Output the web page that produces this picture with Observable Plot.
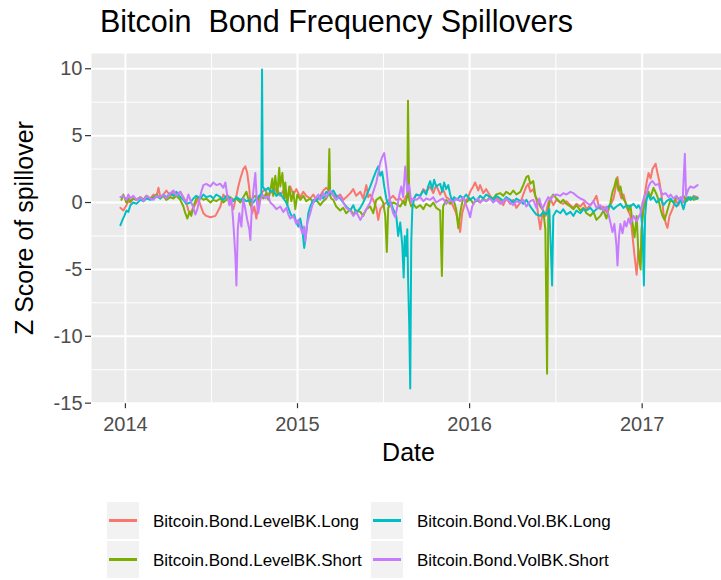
<!DOCTYPE html>
<html>
<head>
<meta charset="utf-8">
<script src="https://cdn.jsdelivr.net/npm/d3@7"></script>
<script src="https://cdn.jsdelivr.net/npm/@observablehq/plot@0.6"></script>
<style>
  html, body { margin: 0; padding: 0; background: #ffffff; }
  #wrap { position: relative; width: 721px; height: 580px; overflow: hidden; font-family: "Liberation Sans", Arial, Helvetica, sans-serif; }
  #chart { position: absolute; left: 0; top: 0; }
  .key { position: absolute; width: 32px; height: 37px; background: #F2F2F2; }
  .key span { position: absolute; left: 2px; right: 2px; top: 50%; height: 2.6px; margin-top: -1.3px; }
  .lab { position: absolute; font-size: 17px; color: #000; line-height: 20px; white-space: pre; }
</style>
</head>
<body>
<div id="wrap">
  <div id="chart"></div>
  <div id="legend"></div>
</div>
<script>
// ---- data (decimal year, z-score) ----
const seriesNames = ["Bitcoin.Bond.LevelBK.Long", "Bitcoin.Bond.LevelBK.Short", "Bitcoin.Bond.Vol.BK.Long", "Bitcoin.Bond.VolBK.Short"];
const seriesColors = ["#F8766D", "#7CAE00", "#00BFC4", "#C77CFF"];
const chartTitle = "Bitcoin  Bond Frequency Spillovers";
const xTitle = "Date";
const yTitle = "Z Score of spillover";
const xTickYears = [2014, 2015, 2016, 2017];
const xMinorYears = [2014.5, 2015.5, 2016.5];
const yTickValues = [-15, -10, -5, 0, 5, 10];
const yMinorValues = [-12.5, -7.5, -2.5, 2.5, 7.5];

const levelLong = [
[2013.971,-0.4],[2013.988,-0.6],[2014.006,-0.2],[2014.017,0.1],[2014.029,0.0],[2014.046,0.3],[2014.064,0.2],[2014.087,0.4],[2014.105,0.2],[2014.122,0.5],
[2014.145,0.3],[2014.163,0.6],[2014.180,0.4],[2014.192,1.1],[2014.203,0.4],[2014.221,0.6],[2014.238,0.9],[2014.261,0.5],[2014.279,0.8],[2014.296,0.6],
[2014.319,0.8],[2014.337,0.4],[2014.354,0.0],[2014.366,-0.6],[2014.377,-0.8],[2014.395,-0.4],[2014.412,0.0],[2014.424,0.3],[2014.436,-0.2],[2014.453,-0.8],
[2014.470,-1.0],[2014.494,-1.1],[2014.523,-1.0],[2014.552,-0.3],[2014.569,0.6],[2014.587,0.3],[2014.598,0.5],[2014.610,0.0],[2014.627,-0.5],[2014.645,0.5],
[2014.656,1.2],[2014.668,1.8],[2014.685,2.5],[2014.697,2.7],[2014.708,2.2],[2014.720,1.0],[2014.726,0.0],[2014.737,-0.8],[2014.749,-0.3],[2014.761,-1.2],
[2014.772,-0.2],[2014.784,0.5],[2014.796,0.8],[2014.813,1.0],[2014.830,0.4],[2014.842,0.9],[2014.859,0.6],[2014.877,1.1],[2014.888,0.8],[2014.900,0.5],
[2014.918,0.9],[2014.935,0.3],[2014.947,0.6],[2014.958,1.2],[2014.976,0.6],[2014.993,1.0],[2015.016,0.4],[2015.034,0.8],[2015.051,0.5],[2015.074,0.3],
[2015.092,0.6],[2015.109,0.2],[2015.132,0.5],[2015.150,0.9],[2015.167,1.1],[2015.190,0.8],[2015.208,0.6],[2015.225,0.4],[2015.248,0.6],[2015.266,0.2],
[2015.283,0.4],[2015.307,0.7],[2015.324,1.0],[2015.341,0.5],[2015.365,0.8],[2015.382,0.3],[2015.400,1.3],[2015.411,0.4],[2015.423,0.6],[2015.440,0.2],
[2015.458,-0.4],[2015.469,-1.3],[2015.481,-0.5],[2015.498,-0.2],[2015.516,0.0],[2015.539,0.3],[2015.556,0.5],[2015.574,0.2],[2015.597,0.3],[2015.614,0.0],
[2015.632,0.5],[2015.655,0.3],[2015.672,0.2],[2015.690,0.6],[2015.713,0.5],[2015.731,1.0],[2015.748,0.8],[2015.771,1.2],[2015.789,0.7],[2015.806,1.3],
[2015.829,0.6],[2015.846,1.0],[2015.864,0.4],[2015.887,0.2],[2015.905,-0.3],[2015.922,-0.8],[2015.934,-1.5],[2015.945,-2.2],[2015.957,-0.8],[2015.974,0.0],
[2015.992,0.4],[2016.003,0.8],[2016.021,1.2],[2016.032,1.5],[2016.050,0.9],[2016.061,1.3],[2016.079,0.7],[2016.096,1.0],[2016.119,0.5],[2016.137,0.2],
[2016.154,0.4],[2016.178,0.1],[2016.195,-0.2],[2016.212,0.3],[2016.236,-0.1],[2016.253,0.2],[2016.271,-0.4],[2016.294,0.0],[2016.311,0.6],[2016.329,1.2],
[2016.340,1.4],[2016.352,0.8],[2016.369,1.0],[2016.387,0.2],[2016.398,-1.0],[2016.410,-2.0],[2016.422,-0.8],[2016.439,-1.0],[2016.456,0.0],[2016.468,0.3],
[2016.485,-0.2],[2016.503,0.2],[2016.526,0.0],[2016.543,-0.1],[2016.561,0.1],[2016.584,-0.2],[2016.602,-0.4],[2016.619,-0.1],[2016.642,-0.3],[2016.660,0.0],
[2016.677,-0.5],[2016.700,-0.2],[2016.718,0.1],[2016.735,0.5],[2016.747,-0.2],[2016.758,-0.5],[2016.776,-0.3],[2016.793,-0.7],[2016.816,-0.2],[2016.834,0.3],
[2016.845,1.0],[2016.857,1.9],[2016.869,0.8],[2016.880,0.3],[2016.892,0.6],[2016.909,-0.3],[2016.932,-1.0],[2016.944,-2.5],[2016.956,-4.0],[2016.968,-5.4],
[2016.979,-3.5],[2016.991,-4.5],[2017.002,-1.0],[2017.014,0.5],[2017.026,1.5],[2017.037,2.2],[2017.049,1.8],[2017.060,2.5],[2017.078,2.9],[2017.089,2.2],
[2017.101,1.5],[2017.113,0.5],[2017.124,-0.8],[2017.136,-1.5],[2017.147,-1.9],[2017.159,-1.0],[2017.176,-0.5],[2017.194,0.2],[2017.211,-0.2],[2017.223,0.3],
[2017.240,0.0],[2017.258,0.4],[2017.281,0.2],[2017.299,0.5],[2017.322,0.4]
];

const levelShort = [
[2013.977,0.2],[2013.988,0.6],[2014.006,0.0],[2014.017,0.3],[2014.029,0.1],[2014.046,0.3],[2014.064,0.2],[2014.087,0.4],[2014.105,0.2],[2014.122,0.5],
[2014.145,0.3],[2014.163,0.4],[2014.180,0.6],[2014.203,0.3],[2014.221,0.5],[2014.238,0.2],[2014.261,0.4],[2014.279,0.3],[2014.296,0.5],[2014.319,0.2],
[2014.337,-0.3],[2014.348,-0.8],[2014.360,-1.2],[2014.372,-0.7],[2014.383,-1.0],[2014.395,-0.3],[2014.412,0.3],[2014.436,0.4],[2014.453,0.2],[2014.470,0.3],
[2014.494,0.0],[2014.511,0.2],[2014.528,0.1],[2014.552,0.3],[2014.569,0.0],[2014.587,0.2],[2014.610,0.4],[2014.627,0.2],[2014.645,0.3],[2014.668,0.0],
[2014.685,0.4],[2014.703,0.8],[2014.714,0.3],[2014.726,-0.2],[2014.737,0.3],[2014.755,0.5],[2014.772,0.2],[2014.784,0.6],[2014.801,0.3],[2014.819,0.7],
[2014.830,0.2],[2014.842,0.9],[2014.854,1.8],[2014.859,0.5],[2014.871,2.0],[2014.883,0.6],[2014.894,2.6],[2014.900,1.2],[2014.912,2.2],[2014.923,0.3],
[2014.929,1.5],[2014.941,-0.2],[2014.952,1.2],[2014.964,0.1],[2014.976,0.8],[2014.987,-0.5],[2014.999,0.6],[2015.016,0.2],[2015.034,0.5],[2015.051,0.1],
[2015.074,0.3],[2015.092,0.0],[2015.109,0.2],[2015.132,-0.2],[2015.150,0.1],[2015.167,0.3],[2015.179,0.6],[2015.185,4.0],[2015.190,0.5],[2015.196,0.3],
[2015.208,0.2],[2015.225,-0.3],[2015.248,-0.6],[2015.266,-0.4],[2015.283,-0.8],[2015.307,-0.5],[2015.324,-0.9],[2015.341,-0.6],[2015.365,-0.7],[2015.382,-1.0],
[2015.400,-0.5],[2015.423,-0.3],[2015.440,-0.8],[2015.458,0.2],[2015.481,0.4],[2015.498,0.0],[2015.510,-1.0],[2015.519,-3.7],[2015.527,-0.4],[2015.539,-0.2],
[2015.556,0.0],[2015.574,-0.1],[2015.597,-0.3],[2015.614,0.1],[2015.626,-0.2],[2015.638,0.5],[2015.642,7.6],[2015.649,0.2],[2015.661,-0.3],[2015.672,-0.1],
[2015.690,-0.4],[2015.713,-0.2],[2015.731,-0.5],[2015.748,-0.1],[2015.771,-0.3],[2015.789,0.0],[2015.806,-0.4],[2015.829,-0.6],[2015.839,-5.5],[2015.846,-0.3],
[2015.864,0.2],[2015.887,-0.1],[2015.905,0.3],[2015.922,-0.5],[2015.934,-1.9],[2015.945,-0.8],[2015.963,0.4],[2015.980,0.0],[2016.003,0.3],[2016.021,-0.1],
[2016.038,0.2],[2016.061,0.0],[2016.079,0.3],[2016.096,0.1],[2016.119,0.4],[2016.137,0.3],[2016.154,0.6],[2016.178,0.7],[2016.195,0.5],[2016.212,0.8],
[2016.236,0.6],[2016.253,0.9],[2016.271,0.6],[2016.294,0.8],[2016.311,1.3],[2016.329,1.9],[2016.340,2.0],[2016.352,1.4],[2016.369,1.6],[2016.381,0.5],
[2016.392,0.2],[2016.410,-0.3],[2016.427,-0.6],[2016.439,-2.0],[2016.449,-12.8],[2016.456,-0.5],[2016.468,0.3],[2016.485,0.6],[2016.503,0.3],[2016.526,0.0],
[2016.543,0.2],[2016.561,-0.1],[2016.584,-0.3],[2016.602,-0.5],[2016.619,-0.2],[2016.642,-0.6],[2016.660,-0.4],[2016.677,-0.8],[2016.700,-1.0],[2016.718,-0.7],
[2016.735,-1.3],[2016.758,-1.0],[2016.776,-0.6],[2016.793,-1.2],[2016.805,-0.5],[2016.816,0.0],[2016.828,0.8],[2016.839,1.2],[2016.851,1.8],[2016.863,0.9],
[2016.874,1.2],[2016.886,0.4],[2016.904,0.0],[2016.921,-0.6],[2016.932,-0.2],[2016.944,-1.5],[2016.956,-2.6],[2016.968,-1.0],[2016.979,-4.0],[2016.991,-5.0],
[2016.996,-2.0],[2017.008,-0.5],[2017.026,0.3],[2017.037,0.8],[2017.049,0.4],[2017.066,1.1],[2017.084,0.6],[2017.095,0.2],[2017.107,-0.5],[2017.118,-1.0],
[2017.130,-1.3],[2017.142,-0.8],[2017.153,-0.3],[2017.165,0.2],[2017.182,0.0],[2017.200,0.4],[2017.223,0.2],[2017.240,0.5],[2017.258,0.1],[2017.281,0.4],
[2017.299,0.2],[2017.322,0.3]
];

const volLong = [
[2013.971,-1.7],[2013.983,-1.3],[2013.994,-1.0],[2014.006,-0.6],[2014.017,-0.7],[2014.029,-0.2],[2014.046,0.0],[2014.064,-0.1],[2014.087,0.2],[2014.105,0.1],
[2014.122,0.3],[2014.145,0.2],[2014.163,0.3],[2014.180,0.5],[2014.203,0.3],[2014.221,0.6],[2014.238,0.4],[2014.261,0.7],[2014.279,0.5],[2014.296,0.8],
[2014.319,0.4],[2014.337,0.2],[2014.354,-0.1],[2014.377,0.0],[2014.395,0.3],[2014.412,0.5],[2014.436,0.3],[2014.453,0.6],[2014.470,0.4],[2014.494,0.5],
[2014.511,0.3],[2014.528,0.6],[2014.552,0.4],[2014.569,0.2],[2014.587,0.5],[2014.610,0.3],[2014.627,0.1],[2014.645,0.4],[2014.668,0.2],[2014.685,0.3],
[2014.703,0.1],[2014.726,0.2],[2014.743,0.0],[2014.761,0.3],[2014.778,0.5],[2014.790,0.6],[2014.794,9.95],[2014.798,1.2],[2014.813,0.9],[2014.830,1.1],
[2014.842,0.8],[2014.859,0.9],[2014.877,0.5],[2014.900,0.7],[2014.918,0.3],[2014.935,0.0],[2014.947,-0.4],[2014.958,-0.8],[2014.970,-1.1],[2014.981,-0.9],
[2014.993,-1.5],[2015.005,-1.8],[2015.016,-1.2],[2015.028,-2.0],[2015.039,-3.4],[2015.051,-2.2],[2015.063,-0.8],[2015.074,-0.3],[2015.092,0.2],[2015.109,0.1],
[2015.132,0.5],[2015.150,0.3],[2015.167,0.8],[2015.190,0.6],[2015.208,0.9],[2015.225,0.5],[2015.248,0.3],[2015.266,0.0],[2015.283,-0.3],[2015.307,-0.6],
[2015.324,-0.2],[2015.341,-0.8],[2015.365,-0.4],[2015.382,0.0],[2015.400,0.5],[2015.423,1.2],[2015.440,1.8],[2015.458,2.4],[2015.469,2.7],[2015.481,2.0],
[2015.492,2.3],[2015.504,1.2],[2015.516,0.3],[2015.527,-0.2],[2015.539,0.1],[2015.556,-0.5],[2015.574,-1.0],[2015.585,-2.5],[2015.597,-1.5],[2015.609,-3.2],
[2015.617,-5.6],[2015.623,-2.5],[2015.632,-4.0],[2015.638,-2.0],[2015.643,-6.0],[2015.649,-9.0],[2015.655,-13.9],[2015.661,-3.0],[2015.667,-0.5],[2015.678,0.3],
[2015.690,0.6],[2015.713,0.5],[2015.731,0.9],[2015.748,0.6],[2015.759,1.2],[2015.771,1.6],[2015.783,1.0],[2015.794,1.7],[2015.806,1.2],[2015.829,1.4],
[2015.841,0.8],[2015.852,1.5],[2015.864,1.0],[2015.876,1.3],[2015.887,0.6],[2015.899,0.1],[2015.910,0.4],[2015.928,0.2],[2015.945,0.5],[2015.963,0.3],
[2015.980,0.6],[2016.003,0.2],[2016.021,0.4],[2016.038,0.1],[2016.061,0.5],[2016.079,0.3],[2016.096,0.6],[2016.119,0.4],[2016.137,0.2],[2016.154,0.5],
[2016.178,0.3],[2016.195,0.1],[2016.212,0.4],[2016.236,0.2],[2016.253,0.0],[2016.271,0.3],[2016.294,0.1],[2016.311,-0.1],[2016.329,0.2],[2016.352,-0.3],
[2016.369,-0.6],[2016.387,-0.9],[2016.410,-1.0],[2016.427,-0.7],[2016.445,-0.9],[2016.462,-0.5],[2016.471,-3.5],[2016.478,-6.2],[2016.485,-1.0],[2016.503,-0.6],
[2016.526,-0.8],[2016.543,-0.5],[2016.561,-0.9],[2016.584,-0.7],[2016.602,-1.0],[2016.619,-0.6],[2016.642,-0.8],[2016.660,-0.5],[2016.677,-0.6],[2016.700,-0.4],
[2016.718,-0.7],[2016.735,-0.5],[2016.758,-0.3],[2016.776,-0.6],[2016.793,-0.4],[2016.816,-0.2],[2016.834,-0.5],[2016.851,-0.3],[2016.874,-0.1],[2016.892,-0.4],
[2016.909,-0.2],[2016.932,-0.3],[2016.950,-0.1],[2016.968,-0.4],[2016.979,-0.2],[2016.991,-0.5],[2017.002,-2.0],[2017.010,-6.2],[2017.017,-1.0],[2017.026,0.3],
[2017.037,0.6],[2017.049,0.2],[2017.066,0.4],[2017.084,0.0],[2017.107,0.3],[2017.124,-0.2],[2017.142,0.1],[2017.165,0.3],[2017.182,0.0],[2017.200,-0.3],
[2017.223,0.2],[2017.240,-0.5],[2017.252,0.1],[2017.269,0.4],[2017.281,0.2],[2017.299,0.4],[2017.322,0.3]
];

const volShort = [
[2013.971,0.4],[2013.988,0.5],[2014.006,0.2],[2014.017,0.6],[2014.029,0.3],[2014.046,0.5],[2014.064,0.2],[2014.087,0.4],[2014.105,0.1],[2014.122,0.5],
[2014.145,0.3],[2014.163,0.2],[2014.180,0.5],[2014.203,0.4],[2014.221,0.6],[2014.238,0.3],[2014.261,0.7],[2014.279,0.9],[2014.296,0.5],[2014.319,0.8],
[2014.337,0.3],[2014.354,0.0],[2014.366,0.6],[2014.377,0.2],[2014.395,-0.4],[2014.406,-0.9],[2014.418,-0.5],[2014.430,0.2],[2014.441,0.8],[2014.453,1.3],
[2014.470,1.4],[2014.494,1.2],[2014.511,1.5],[2014.528,1.3],[2014.552,1.4],[2014.569,1.1],[2014.581,1.5],[2014.592,0.5],[2014.604,-0.2],[2014.616,0.3],
[2014.627,-1.5],[2014.639,-4.0],[2014.645,-6.2],[2014.653,-2.0],[2014.662,-0.8],[2014.674,-1.8],[2014.685,0.3],[2014.697,-0.5],[2014.708,-1.3],[2014.720,-2.0],
[2014.726,-2.8],[2014.735,-0.3],[2014.743,0.8],[2014.755,2.2],[2014.764,0.0],[2014.772,-0.8],[2014.784,0.2],[2014.796,0.6],[2014.813,0.3],[2014.830,0.5],
[2014.842,0.0],[2014.859,-0.2],[2014.877,-0.5],[2014.900,-0.3],[2014.918,-0.7],[2014.935,-0.4],[2014.947,-0.9],[2014.958,-1.2],[2014.976,-1.0],[2014.993,-1.6],
[2015.005,-1.3],[2015.016,-1.8],[2015.028,-2.3],[2015.039,-1.8],[2015.045,-2.9],[2015.057,-1.5],[2015.074,-0.8],[2015.086,-0.2],[2015.103,0.3],[2015.121,0.6],
[2015.132,0.2],[2015.150,0.7],[2015.167,0.4],[2015.190,0.9],[2015.208,0.5],[2015.225,0.2],[2015.248,0.5],[2015.266,0.0],[2015.283,-0.4],[2015.307,-0.6],
[2015.324,-1.0],[2015.341,-0.7],[2015.365,-1.3],[2015.382,-0.9],[2015.400,-0.5],[2015.423,0.0],[2015.440,0.8],[2015.458,1.5],[2015.469,2.2],[2015.481,3.0],
[2015.492,3.4],[2015.504,3.7],[2015.516,2.6],[2015.527,1.2],[2015.539,0.0],[2015.556,-0.8],[2015.568,-1.1],[2015.580,-0.3],[2015.591,0.5],[2015.603,1.2],
[2015.614,0.4],[2015.626,2.7],[2015.638,0.8],[2015.649,1.3],[2015.661,0.0],[2015.672,0.3],[2015.690,0.2],[2015.713,0.4],[2015.731,0.1],[2015.748,0.3],
[2015.771,0.2],[2015.789,0.4],[2015.806,0.0],[2015.829,0.2],[2015.846,0.3],[2015.864,-0.1],[2015.887,0.2],[2015.905,0.0],[2015.922,0.3],[2015.945,0.1],
[2015.963,0.4],[2015.980,-0.2],[2015.992,-0.6],[2016.003,-1.1],[2016.015,-0.3],[2016.032,0.1],[2016.050,0.3],[2016.061,0.0],[2016.079,0.2],[2016.096,0.1],
[2016.119,0.3],[2016.137,0.0],[2016.154,0.2],[2016.178,-0.1],[2016.195,0.1],[2016.212,0.3],[2016.236,0.0],[2016.253,-0.2],[2016.271,0.1],[2016.294,0.0],
[2016.311,0.2],[2016.329,-0.3],[2016.352,0.1],[2016.369,0.2],[2016.387,-0.4],[2016.404,0.3],[2016.422,-0.5],[2016.439,0.0],[2016.456,0.4],[2016.468,0.2],
[2016.485,0.5],[2016.503,0.6],[2016.526,0.5],[2016.543,0.7],[2016.561,0.6],[2016.584,0.8],[2016.602,0.7],[2016.619,0.5],[2016.642,0.3],[2016.660,0.2],
[2016.677,0.0],[2016.700,-0.2],[2016.718,0.1],[2016.735,-0.4],[2016.758,-0.2],[2016.776,-0.6],[2016.793,-0.3],[2016.805,-0.9],[2016.816,-1.5],[2016.828,-2.2],
[2016.839,-1.6],[2016.851,-3.2],[2016.857,-4.7],[2016.866,-2.5],[2016.874,-1.6],[2016.886,-2.3],[2016.898,-1.4],[2016.909,-1.8],[2016.921,-1.2],[2016.932,-1.6],
[2016.950,-1.0],[2016.968,-1.4],[2016.979,-1.1],[2016.991,-0.8],[2017.002,0.0],[2017.014,0.5],[2017.026,0.7],[2017.037,1.2],[2017.049,1.5],[2017.060,1.6],
[2017.078,1.3],[2017.095,1.4],[2017.107,0.9],[2017.118,0.6],[2017.136,0.7],[2017.153,0.4],[2017.165,0.6],[2017.182,0.3],[2017.200,0.5],[2017.211,0.2],
[2017.223,0.4],[2017.235,0.1],[2017.248,3.65],[2017.255,0.5],[2017.269,1.0],[2017.281,1.2],[2017.299,1.1],[2017.322,1.3]
];

const seriesValues = [levelLong, levelShort, volLong, volShort];

// ---- helpers ----
function yearToDate(d) {
  const y = Math.floor(d);
  const s = Date.UTC(y, 0, 1), e = Date.UTC(y + 1, 0, 1);
  return new Date(s + (d - y) * (e - s));
}

const rows = seriesNames.flatMap((name, i) =>
  seriesValues[i].map(([t, v]) => ({date: yearToDate(t), value: v, series: name}))
);

const W = 721, H = 470;
const panelTop = 53, panelBottom = 403.2, panelLeft = 91;

const chart = Plot.plot({
  width: W,
  height: H,
  marginLeft: panelLeft,
  marginRight: 0,
  marginTop: panelTop,
  marginBottom: H - panelBottom,
  style: {fontFamily: '"Liberation Sans", Arial, Helvetica, sans-serif', background: "#ffffff", overflow: "visible"},
  x: {type: "utc", domain: [yearToDate(2013.803), yearToDate(2017.461)]},
  y: {domain: [-15.04, 11.14]},
  color: {domain: seriesNames, range: seriesColors},
  marks: [
    Plot.frame({fill: "#EBEBEB", stroke: "none"}),
    Plot.ruleY(yMinorValues, {stroke: "#ffffff", strokeWidth: 1}),
    Plot.ruleX(xMinorYears.map(yearToDate), {stroke: "#ffffff", strokeWidth: 1}),
    Plot.ruleY(yTickValues, {stroke: "#ffffff", strokeWidth: 2}),
    Plot.ruleX(xTickYears.map(y => new Date(Date.UTC(y, 0, 1))), {stroke: "#ffffff", strokeWidth: 2}),
    Plot.line(rows, {x: "date", y: "value", z: "series", stroke: "series", strokeWidth: 2, strokeLinejoin: "round", curve: "linear"}),
    Plot.axisX({ticks: xTickYears.map(y => new Date(Date.UTC(y, 0, 1))), tickFormat: d3.utcFormat("%Y"), tickSize: 5, tickPadding: 8.3, fontSize: 20, label: null, stroke: "#333333", fill: "#4D4D4D"}),
    Plot.axisY({ticks: yTickValues, tickFormat: v => String(v), tickSize: 6, tickPadding: 3, fontSize: 20, label: null, stroke: "#333333", fill: "#4D4D4D"})
  ]
});

document.getElementById("chart").appendChild(chart);

const svg = d3.select(chart);
svg.selectAll('g[aria-label="x-axis tick label"] text, g[aria-label="y-axis tick label"] text').attr("fill", "#4D4D4D");
svg.selectAll('g[aria-label="x-axis tick"], g[aria-label="y-axis tick"]').attr("stroke", "#333333").attr("stroke-width", 1.2);

// titles
svg.append("text")
  .attr("x", 100).attr("y", 32)
  .attr("text-anchor", "start")
  .attr("font-size", 30.5).attr("fill", "#000")
  .attr("xml:space", "preserve")
  .style("white-space", "pre")
  .text(chartTitle);
svg.append("text")
  .attr("x", (panelLeft + 726) / 2).attr("y", 461)
  .attr("text-anchor", "middle").attr("font-size", 25).attr("fill", "#000")
  .text(xTitle);
svg.append("text")
  .attr("transform", `translate(33,${(panelTop + panelBottom) / 2}) rotate(-90)`)
  .attr("text-anchor", "middle").attr("font-size", 25).attr("fill", "#000")
  .text(yTitle);

// legend (2 rows, filled by column)
const legend = document.getElementById("legend");
const colX = [107, 371];
const rowY = [502, 541];
seriesNames.forEach((name, i) => {
  const c = Math.floor(i / 2), r = i % 2;
  const key = document.createElement("div");
  key.className = "key";
  key.style.left = colX[c] + "px";
  key.style.top = rowY[r] + "px";
  const ln = document.createElement("span");
  ln.style.background = seriesColors[i];
  key.appendChild(ln);
  legend.appendChild(key);
  const lab = document.createElement("div");
  lab.className = "lab";
  lab.style.left = (colX[c] + 46) + "px";
  lab.style.top = (rowY[r] + 20 - 10) + "px";
  lab.textContent = name;
  legend.appendChild(lab);
});
</script>
</body>
</html>
